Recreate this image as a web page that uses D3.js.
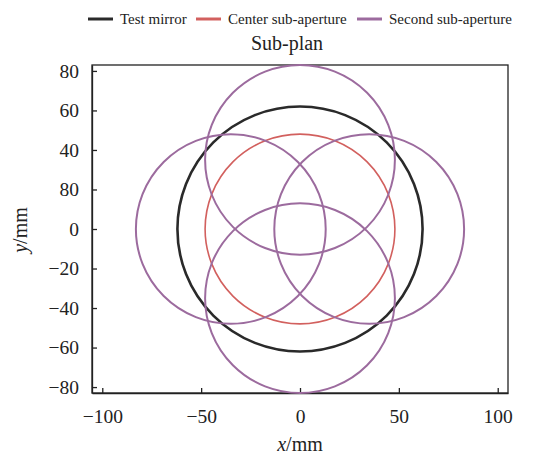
<!DOCTYPE html>
<meta charset="utf-8">
<script src="https://cdn.jsdelivr.net/npm/d3@7"></script>
<style>
    body { margin: 0; background: #fff; }
    text { font-family: "Liberation Serif", "Times New Roman", serif !important; fill: #222; }
</style>
<body>
<svg class="chart" width="547" height="456"></svg>
<script>
    ///////////////////////
    // Data
    var seriesNames = ["Test mirror", "Center sub-aperture", "Second sub-aperture"];
    var seriesColors = ["#2a2a2a", "#d2605e", "#9c6b9e"];
    // circles: [series index, cx, cy, r] in mm
    var mirrorCircles = [[0, 0, 0, 62]];
    var centerCircles = [[1, 0, 0, 48]];
    var secondCircles = [[2, 0, 35, 48], [2, 35, 0, 48], [2, 0, -35, 48], [2, -35, 0, 48]];
    var xTicks = [-100, -50, 0, 50, 100];
    var yTicks = [80, 60, 40, 20, 0, -20, -40, -60, -80];
    // tick labels as printed in the figure
    var yTickLabels = ["80", "60", "40", "80", "0", "\u221220", "\u221240", "\u221260", "\u221280"];

    ///////////////////////
    // Chart Size Setup
    var margin = { top: 65, right: 39, bottom: 63, left: 92 };
    var width = 547 - margin.left - margin.right;
    var height = 456 - margin.top - margin.bottom;

    var svg = d3.select(".chart");
    var chart = svg.append("g")
        .attr("transform", "translate(" + margin.left + "," + margin.top + ")");

    ///////////////////////
    // Scales
    var x = d3.scaleLinear().domain([-105.2, 105.2]).range([0, width]);
    var y = d3.scaleLinear().domain([-83, 83]).range([height, 0]);

    ///////////////////////
    // Axis
    var fmt = function(d) { return d < 0 ? "\u2212" + Math.abs(d) : d; };

    chart.append("g")
        .attr("transform", "translate(0," + height + ")")
        .call(d3.axisBottom(x).tickValues(xTicks).tickSizeInner(-5).tickSizeOuter(0).tickPadding(16).tickFormat(fmt));

    chart.append("g")
        .call(d3.axisLeft(y).tickValues(yTicks).tickSizeInner(-5).tickSizeOuter(0).tickPadding(13)
            .tickFormat(function(d, i) { return yTickLabels[i]; }));

    chart.selectAll(".tick text")
        .style("font-family", "'Liberation Serif', serif")
        .attr("font-size", 19.5)
        .attr("fill", "#222");
    chart.selectAll(".domain, .tick line").attr("stroke", "#222").attr("stroke-width", 1.3);

    // box
    chart.append("rect")
        .attr("width", width)
        .attr("height", height)
        .attr("fill", "none")
        .attr("stroke", "#222")
        .attr("stroke-width", 1.3);

    ///////////////////////
    // Circles
    var allCircles = mirrorCircles.concat(centerCircles, secondCircles);
    var widths = [2.6, 1.6, 2];

    chart.append("g")
        .selectAll("ellipse")
        .data(allCircles)
        .enter().append("ellipse")
        .attr("cx", function(d) { return x(d[1]); })
        .attr("cy", function(d) { return y(d[2]); })
        .attr("rx", function(d) { return x(d[3]) - x(0); })
        .attr("ry", function(d) { return y(0) - y(d[3]); })
        .attr("fill", "none")
        .attr("stroke", function(d) { return seriesColors[d[0]]; })
        .attr("stroke-width", function(d) { return widths[d[0]]; });

    ///////////////////////
    // Titles
    svg.append("text")
        .text("Sub-plan")
        .attr("x", 287)
        .attr("y", 50)
        .attr("text-anchor", "middle")
        .attr("font-size", 20);

    var xt = svg.append("text")
        .attr("x", 300)
        .attr("y", 451)
        .attr("text-anchor", "middle")
        .attr("font-size", 20);
    xt.append("tspan").attr("font-style", "italic").text("x");
    xt.append("tspan").text("/mm");

    var yt = svg.append("text")
        .attr("transform", "translate(27,230) rotate(-90)")
        .attr("text-anchor", "middle")
        .attr("font-size", 20);
    yt.append("tspan").attr("font-style", "italic").text("y");
    yt.append("tspan").text("/mm");

    ///////////////////////
    // Legend
    var legendX = [88, 196, 357];
    var legend = svg.append("g").selectAll("g")
        .data(seriesNames)
        .enter().append("g")
        .attr("transform", function(d, i) { return "translate(" + legendX[i] + ",19)"; });

    legend.append("line")
        .attr("x1", 0).attr("x2", 25)
        .attr("stroke", function(d, i) { return seriesColors[i]; })
        .attr("stroke-width", 3);

    legend.append("text")
        .text(function(d) { return d; })
        .attr("x", 32)
        .attr("y", 5)
        .attr("font-size", 15);
</script>
</body>
